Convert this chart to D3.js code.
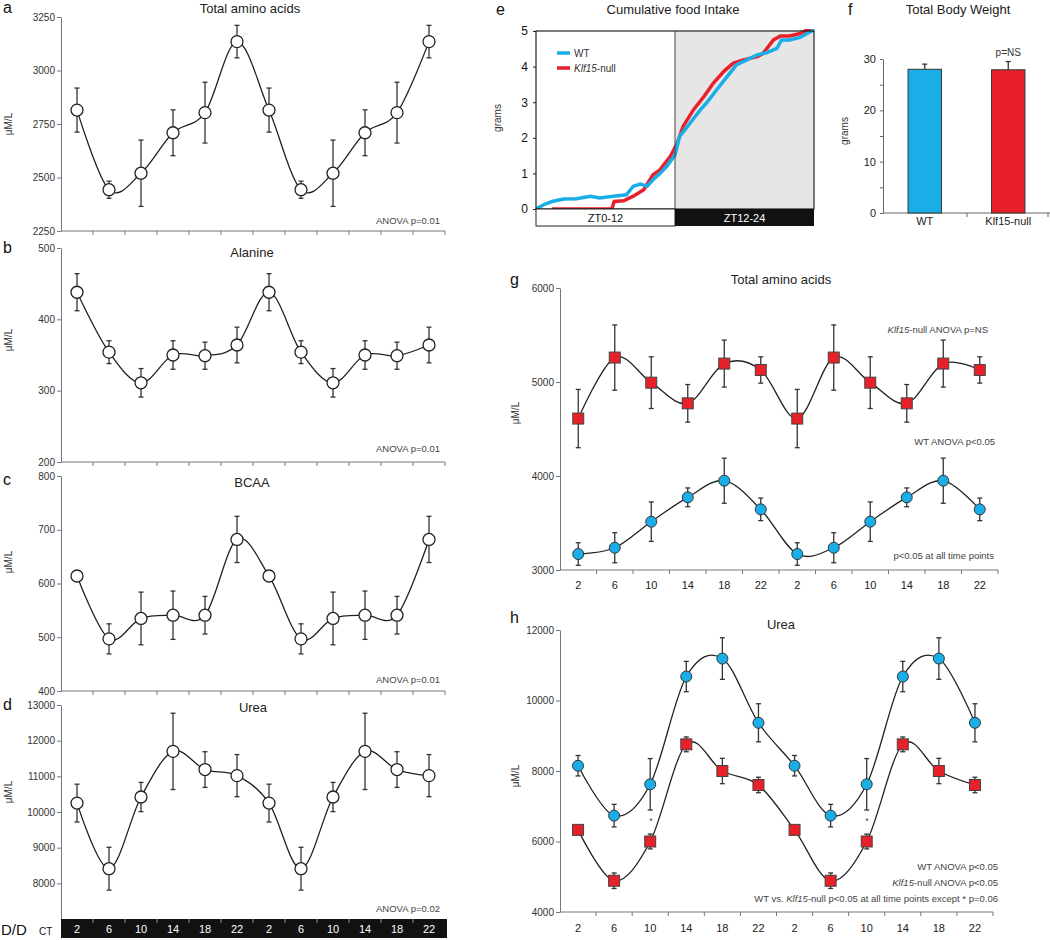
<!DOCTYPE html>
<html><head><meta charset="utf-8">
<script src="https://cdn.jsdelivr.net/npm/d3@7"></script>
<style>body{margin:0;background:#fff} svg{display:block;font-family:"Liberation Sans",Arial,Helvetica,sans-serif}</style>
</head><body><svg id="c" width="1050" height="940"></svg>
<script>
// ---------- data ----------
const ctLabels = ["2","6","10","14","18","22","2","6","10","14","18","22"];

const taaMean = [2815,2443,2520,2709,2803,3135,2815,2443,2520,2709,2803,3135];
const taaErr  = [103,40,155,107,142,76,103,40,155,107,142,76];
const taaTicks = [2250,2500,2750,3000,3250];

const alaMean = [438,354,311,350,349,364,438,354,311,350,349,364];
const alaErr  = [26,16,20,20,19,25,26,16,20,20,19,25];
const alaTicks = [200,300,400,500];

const bcaaMean = [614,497,535,541,541,682,614,497,535,541,541,682];
const bcaaErr  = [0,28,49,45,35,43,0,28,49,45,35,43];
const bcaaTicks = [400,500,600,700,800];

const ureaMean = [10250,8410,10420,11700,11190,11020,10250,8410,10420,11700,11190,11020];
const ureaErr  = [530,600,410,1070,500,590,530,600,410,1070,500,590];
const ureaTicks = [8000,9000,10000,11000,12000,13000];

const foodZtWT = [0,0.66,1.38,2.4,3.5,4.7,5.5,6.7,7.8,8.4,9.0,9.6,10.1,10.7,11.3,12.0,12.4,13.3,14.2,14.7,15.6,16.5,17.3,18.2,19.1,19.9,20.8,21.2,21.9,22.8,23.4,24];
const foodWT   = [0,0.12,0.21,0.28,0.29,0.36,0.31,0.36,0.40,0.64,0.70,0.64,0.82,1.0,1.2,1.52,2.04,2.41,2.79,2.97,3.35,3.72,4.05,4.19,4.33,4.39,4.51,4.75,4.75,4.82,4.93,5.03];
const foodZtKO = [1.38,6.55,6.75,7.56,8.4,9.3,10.1,10.7,11.6,12.2,12.7,13.6,14.5,15.3,16.2,17.0,17.9,19.1,19.6,20.5,21.1,21.9,22.8,23.4,24];
const foodKO   = [0,0,0.21,0.23,0.36,0.54,0.96,1.1,1.48,1.85,2.32,2.79,3.16,3.53,3.86,4.09,4.19,4.28,4.37,4.75,4.86,4.86,4.93,5.03,5.07];
const foodTicks = [0,1,2,3,4,5];

const bwGroups = ["WT","Klf15-null"];
const bwMean = [28.0,27.9];
const bwErr  = [1.0,1.6];
const bwTicks = [0,10,20,30];

const gKOMean = [4611,5260,4993,4773,5196,5128,4611,5260,4993,4773,5196,5128];
const gKOErr  = [310,347,275,200,250,140,310,347,275,200,250,140];
const gWTMean = [3170,3237,3514,3773,3950,3645,3170,3237,3514,3773,3950,3645];
const gWTErr  = [120,160,210,100,240,120,120,160,210,100,240,120];
const gTicks = [3000,4000,5000,6000];

const hWTMean = [8150,6734,7623,10680,11190,9368,8150,6734,7623,10680,11190,9368];
const hWTErr  = [290,320,730,430,590,540,290,320,730,430,590,540];
const hKOMean = [6330,4887,6000,8756,8000,7603,6330,4887,6000,8756,8000,7603];
const hKOErr  = [90,220,210,210,360,220,90,220,210,210,360,220];
const hTicks = [4000,6000,8000,10000,12000];

const BLUE = "#1aaee8", RED = "#e8202a";

// ---------- drawing ----------
const svg = d3.select("#c");
const curve = d3.curveCardinal.tension(0);

function txt(x, y, s, o = {}) {
  return svg.append("text").attr("x", x).attr("y", y).text(s)
    .attr("font-size", o.size || 11).attr("fill", o.fill || "#222")
    .attr("text-anchor", o.anchor || "start")
    .attr("font-style", o.italic ? "italic" : null)
    .attr("font-weight", o.bold ? "bold" : null);
}
function vlabel(x, y, s, size) {
  svg.append("text").attr("transform", `translate(${x},${y}) rotate(-90)`)
    .attr("text-anchor", "middle").attr("font-size", size || 10).attr("fill", "#333").text(s);
}
function styleAxis(a, fs) {
  a.selectAll("path,line").attr("stroke", "#777");
  a.selectAll("text").attr("font-size", fs || 10).attr("fill", "#333").attr("font-family", null);
}

function seriesPanel(o) {
  const x = d3.scaleBand().domain(d3.range(12)).range(o.xr);
  const y = d3.scaleLinear().domain(o.dom).range([o.yb, o.yt]);
  const g = svg.append("g");
  const ya = g.append("g").attr("transform", `translate(${o.xr[0]},0)`)
    .call(d3.axisLeft(y).tickValues(o.ticks).tickSize(4).tickSizeOuter(0).tickPadding(2).tickFormat(d3.format("d")));
  styleAxis(ya, o.fs);
  if (o.xaxis) {
    g.append("line").attr("x1", o.xr[0]).attr("x2", o.xr[1]).attr("y1", o.yb).attr("y2", o.yb).attr("stroke", "#777");
    g.selectAll(".xt").data(d3.range(1, 13)).enter().append("line")
      .attr("x1", i => o.xr[0] + i * x.step()).attr("x2", i => o.xr[0] + i * x.step())
      .attr("y1", o.yb).attr("y2", o.yb + 4).attr("stroke", "#777");
  }
  if (o.xlabels) {
    g.selectAll(".xl").data(ctLabels).enter().append("text")
      .attr("x", (d, i) => x(i) + x.bandwidth() / 2).attr("y", o.xlabY)
      .attr("text-anchor", "middle").attr("font-size", 11).attr("fill", "#222").text(d => d);
  }
  o.series.forEach(s => {
    const cx = i => x(i) + x.bandwidth() / 2;
    const eb = g.append("g").attr("stroke", "#333").attr("stroke-width", 1.3);
    s.mean.forEach((m, i) => {
      const e = s.err[i];
      if (!e) return;
      eb.append("line").attr("x1", cx(i)).attr("x2", cx(i)).attr("y1", y(m - e)).attr("y2", y(m + e));
      eb.append("line").attr("x1", cx(i) - 2.5).attr("x2", cx(i) + 2.5).attr("y1", y(m - e)).attr("y2", y(m - e));
      eb.append("line").attr("x1", cx(i) - 2.5).attr("x2", cx(i) + 2.5).attr("y1", y(m + e)).attr("y2", y(m + e));
    });
    g.append("path").datum(s.mean).attr("fill", "none").attr("stroke", "#222").attr("stroke-width", 1.3)
      .attr("d", d3.line().x((d, i) => cx(i)).y(d => y(d)).curve(curve));
    if (s.shape === "square") {
      g.selectAll(null).data(s.mean).enter().append("rect")
        .attr("x", (d, i) => cx(i) - 5.5).attr("y", d => y(d) - 5.5).attr("width", 11).attr("height", 11)
        .attr("fill", s.fill).attr("stroke", "#444").attr("stroke-width", 1);
    } else {
      g.selectAll(null).data(s.mean).enter().append("circle")
        .attr("cx", (d, i) => cx(i)).attr("cy", d => y(d)).attr("r", s.r || 6)
        .attr("fill", s.fill).attr("stroke", s.stroke || "#222").attr("stroke-width", s.sw || 1.3);
    }
  });
  return { x, y };
}

// ---- left column a-d ----
const LX = [61, 445];
seriesPanel({ xr: LX, dom: [2250, 3250], yt: 17, yb: 231, ticks: taaTicks, xaxis: true,
  series: [{ mean: taaMean, err: taaErr, fill: "#fff" }] });
seriesPanel({ xr: LX, dom: [200, 500], yt: 248, yb: 462, ticks: alaTicks, xaxis: true,
  series: [{ mean: alaMean, err: alaErr, fill: "#fff" }] });
seriesPanel({ xr: LX, dom: [400, 800], yt: 476, yb: 691, ticks: bcaaTicks, xaxis: true,
  series: [{ mean: bcaaMean, err: bcaaErr, fill: "#fff" }] });
const pd = seriesPanel({ xr: LX, dom: [7000, 13000], yt: 705, yb: 919, ticks: ureaTicks, xaxis: false,
  series: [{ mean: ureaMean, err: ureaErr, fill: "#fff" }] });

// bottom CT bar
svg.append("rect").attr("x", 61).attr("y", 919).attr("width", 447 - 61).attr("height", 19).attr("fill", "#111");
svg.selectAll(".bt").data(d3.range(1, 12)).enter().append("line")
  .attr("x1", i => 61 + i * pd.x.step()).attr("x2", i => 61 + i * pd.x.step())
  .attr("y1", 919).attr("y2", 923).attr("stroke", "#888");
svg.selectAll(".bl").data(ctLabels).enter().append("text")
  .attr("x", (d, i) => pd.x(i) + pd.x.bandwidth() / 2).attr("y", 933)
  .attr("text-anchor", "middle").attr("font-size", 11).attr("fill", "#fff").text(d => d);
txt(1, 935, "D/D", { size: 15, fill: "#111" });
txt(39, 935, "CT", { size: 10, fill: "#111" });

// titles, labels, notes
txt(3, 13, "a", { size: 16, fill: "#111" });
txt(3, 253, "b", { size: 16, fill: "#111" });
txt(3, 485, "c", { size: 16, fill: "#111" });
txt(3, 710, "d", { size: 16, fill: "#111" });
txt(250, 13, "Total amino acids", { size: 13, anchor: "middle" });
txt(252, 257, "Alanine", { size: 13, anchor: "middle" });
txt(252, 487, "BCAA", { size: 13, anchor: "middle" });
txt(253, 712, "Urea", { size: 13, anchor: "middle" });
txt(440, 224, "ANOVA p=0.01", { size: 9.5, anchor: "end", fill: "#444" });
txt(440, 452, "ANOVA p=0.01", { size: 9.5, anchor: "end", fill: "#444" });
txt(440, 683, "ANOVA p=0.01", { size: 9.5, anchor: "end", fill: "#444" });
txt(440, 912, "ANOVA p=0.02", { size: 9.5, anchor: "end", fill: "#444" });
vlabel(12, 124, "μM/L");
vlabel(12, 340, "μM/L");
vlabel(12, 562, "μM/L");
vlabel(12, 792, "μM/L");

// ---- panel e ----
(function () {
  const x = d3.scaleLinear().domain([0, 24]).range([536, 814]);
  const y = d3.scaleLinear().domain([0, 5]).range([209, 31]);
  svg.append("rect").attr("x", x(12)).attr("y", y(5)).attr("width", x(24) - x(12)).attr("height", y(0) - y(5)).attr("fill", "#e6e6e6");
  svg.append("clipPath").attr("id", "eclip").append("rect")
    .attr("x", x(0)).attr("y", y(5) - 2).attr("width", x(24) - x(0) + 2).attr("height", y(0) - y(5) + 3);
  const ln = d3.line().x(d => x(d[0])).y(d => y(d[1]));
  svg.append("path").datum(d3.zip(foodZtKO, foodKO)).attr("d", ln).attr("fill", "none")
    .attr("stroke", RED).attr("stroke-width", 3.5).attr("clip-path", "url(#eclip)");
  svg.append("path").datum(d3.zip(foodZtWT, foodWT)).attr("d", ln).attr("fill", "none")
    .attr("stroke", BLUE).attr("stroke-width", 3.5).attr("clip-path", "url(#eclip)");
  svg.append("rect").attr("x", x(0)).attr("y", y(5)).attr("width", x(24) - x(0)).attr("height", y(0) - y(5))
    .attr("fill", "none").attr("stroke", "#222").attr("stroke-width", 1.2);
  svg.append("line").attr("x1", x(12)).attr("x2", x(12)).attr("y1", y(5)).attr("y2", y(0)).attr("stroke", "#444");
  const ya = svg.append("g").attr("transform", `translate(${x(0)},0)`)
    .call(d3.axisLeft(y).tickValues(foodTicks).tickSize(3).tickSizeOuter(0).tickPadding(5).tickFormat(d3.format("d")));
  ya.selectAll("path").remove();
  ya.selectAll("line").attr("stroke", "#222");
  ya.selectAll("text").attr("font-size", 12).attr("fill", "#111").attr("font-family", null);
  // ZT bar
  svg.append("rect").attr("x", x(0)).attr("y", 209).attr("width", x(12) - x(0)).attr("height", 17)
    .attr("fill", "#fff").attr("stroke", "#222");
  svg.append("rect").attr("x", x(12)).attr("y", 209).attr("width", x(24) - x(12)).attr("height", 17).attr("fill", "#111");
  txt((x(0) + x(12)) / 2, 222, "ZT0-12", { size: 11, anchor: "middle", fill: "#111" });
  txt((x(12) + x(24)) / 2, 222, "ZT12-24", { size: 11, anchor: "middle", fill: "#fff" });
  // legend
  svg.append("line").attr("x1", 557).attr("x2", 570).attr("y1", 53).attr("y2", 53).attr("stroke", BLUE).attr("stroke-width", 3.5);
  svg.append("line").attr("x1", 557).attr("x2", 570).attr("y1", 68).attr("y2", 68).attr("stroke", RED).attr("stroke-width", 3.5);
  txt(574, 57, "WT", { size: 10, fill: "#333" });
  const t = txt(574, 72, "", { size: 10, fill: "#333" });
  t.append("tspan").attr("font-style", "italic").text("Klf15");
  t.append("tspan").text("-null");
  vlabel(501, 118, "grams", 10);
  txt(496, 15, "e", { size: 16, fill: "#111" });
  txt(673, 14, "Cumulative food Intake", { size: 13, anchor: "middle" });
})();

// ---- panel f ----
(function () {
  const x = d3.scaleBand().domain(bwGroups).range([883, 1050]).paddingInner(0.6).paddingOuter(0.3);
  const y = d3.scaleLinear().domain([0, 30]).range([213, 59]);
  const ya = svg.append("g").attr("transform", "translate(883,0)")
    .call(d3.axisLeft(y).ticks(6).tickSize(3).tickSizeOuter(0).tickPadding(4).tickFormat(d => bwTicks.includes(d) ? d : ""));
  ya.selectAll("path,line").attr("stroke", "#666");
  ya.selectAll("text").attr("font-size", 11).attr("fill", "#222").attr("font-family", null);
  svg.append("line").attr("x1", 883).attr("x2", 1050).attr("y1", 213).attr("y2", 213).attr("stroke", "#666");
  [967, 1048].forEach(v => svg.append("line").attr("x1", v).attr("x2", v).attr("y1", 213).attr("y2", 217).attr("stroke", "#666"));
  bwGroups.forEach((gname, i) => {
    const cx = x(gname) + x.bandwidth() / 2;
    svg.append("line").attr("x1", cx).attr("x2", cx).attr("y1", y(bwMean[i])).attr("y2", y(bwMean[i] + bwErr[i])).attr("stroke", "#333").attr("stroke-width", 1.3);
    svg.append("line").attr("x1", cx - 2.5).attr("x2", cx + 2.5).attr("y1", y(bwMean[i] + bwErr[i])).attr("y2", y(bwMean[i] + bwErr[i])).attr("stroke", "#333").attr("stroke-width", 1.3);
    svg.append("rect").attr("x", x(gname)).attr("y", y(bwMean[i])).attr("width", x.bandwidth()).attr("height", y(0) - y(bwMean[i]))
      .attr("fill", i === 0 ? BLUE : RED).attr("stroke", "#333").attr("stroke-width", 1);
    txt(cx, 225, gname, { size: 11, anchor: "middle", fill: "#222" });
  });
  txt(x("Klf15-null") + x.bandwidth() / 2, 56, "p=NS", { size: 10, anchor: "middle", fill: "#333" });
  vlabel(848, 131, "grams", 10);
  txt(848, 15, "f", { size: 16, fill: "#111" });
  txt(958, 14, "Total Body Weight", { size: 13, anchor: "middle" });
})();

// ---- panel g ----
seriesPanel({ xr: [560, 998], dom: [3000, 6000], yt: 288, yb: 570, ticks: gTicks, xaxis: true, xlabels: true, xlabY: 589, fs: 10,
  series: [
    { mean: gKOMean, err: gKOErr, fill: RED, shape: "square" },
    { mean: gWTMean, err: gWTErr, fill: BLUE, r: 5.5, stroke: "#333", sw: 1 }
  ] });
txt(510, 285, "g", { size: 16, fill: "#111" });
txt(781, 284, "Total amino acids", { size: 13, anchor: "middle" });
vlabel(519, 413, "μM/L");
(function () {
  const t = txt(988, 333, "", { size: 9.5, anchor: "end", fill: "#444" });
  t.append("tspan").attr("font-style", "italic").text("Klf15");
  t.append("tspan").text("-null ANOVA p=NS");
})();
txt(995, 445, "WT ANOVA p<0.05", { size: 9.5, anchor: "end", fill: "#444" });
txt(994, 559, "p<0.05 at all time points", { size: 9.5, anchor: "end", fill: "#444" });

// ---- panel h ----
seriesPanel({ xr: [560, 993], dom: [4000, 12000], yt: 630, yb: 912, ticks: hTicks, xaxis: true, xlabels: true, xlabY: 932, fs: 10,
  series: [
    { mean: hWTMean, err: hWTErr, fill: BLUE, r: 5.5, stroke: "#333", sw: 1 },
    { mean: hKOMean, err: hKOErr, fill: RED, shape: "square" }
  ] });
txt(510, 623, "h", { size: 16, fill: "#111" });
txt(781, 629, "Urea", { size: 13, anchor: "middle" });
vlabel(519, 776, "μM/L");
txt(651, 824, "*", { size: 9, anchor: "middle", fill: "#444" });
txt(867, 824, "*", { size: 9, anchor: "middle", fill: "#444" });
txt(998, 870, "WT ANOVA p<0.05", { size: 9.5, anchor: "end", fill: "#444" });
(function () {
  const t = txt(998, 886, "", { size: 9.5, anchor: "end", fill: "#444" });
  t.append("tspan").attr("font-style", "italic").text("Klf15");
  t.append("tspan").text("-null ANOVA p<0.05");
  const t2 = txt(998, 902, "", { size: 9.5, anchor: "end", fill: "#444" });
  t2.append("tspan").text("WT vs. ");
  t2.append("tspan").attr("font-style", "italic").text("Klf15");
  t2.append("tspan").text("-null p<0.05 at all time points except * p=0.06");
})();
</script></body></html>
